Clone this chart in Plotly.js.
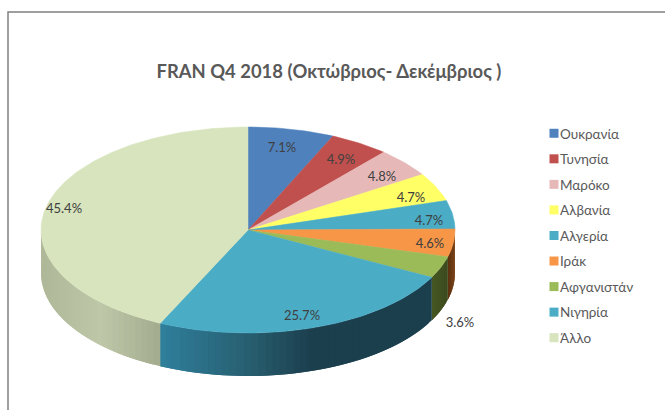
<!DOCTYPE html>
<html><head><meta charset="utf-8">
<script src="https://cdn.plot.ly/plotly-3.0.1.min.js"></script>
<style>html,body{margin:0;padding:0;background:#fff}#c{width:665px;height:410px}</style>
</head><body><div id="c"></div>
<script>
const categories = ['Ουκρανία','Τυνησία','Μαρόκο','Αλβανία','Αλγερία','Ιράκ','Αφγανιστάν','Νιγηρία','Άλλο'];
const shares = [7.1,4.9,4.8,4.7,4.7,4.6,3.6,25.7,45.4];
const colors = ['#4f81bd','#c0504d','#e6b9b8','#ffff66','#4bacc6','#f79646','#9bbb59','#4bacc6','#d7e4bd'];
// wall shades: stops [position across the wall from left to right, colour]
const wallShades = {
  5:[[0,'#5a3010'],[1,'#7a4419']],
  6:[[0,'#465722'],[1,'#3c4a1e']],
  7:[[0,'#2f7f9c'],[0.33,'#275e6f'],[0.55,'#1c3f4e'],[1,'#1c3f4e']],
  8:[[0,'#aeb898'],[0.5,'#bec7a8'],[1,'#a3ac8e']]
};
const titleText = 'FRAN Q4 2018 (Οκτώβριος- Δεκέμβριος )';
const labelPx = [[282,149],[341,161],[382,178],[411,199],[429,222],[430,245],[460,324],[302,317],[64,210]];

const W=665,H=410,cx=248,cy=230,rx=207,ry=103,depth=43;
const total = shares.reduce((a,b)=>a+b,0);
const ux = px => (px-cx)/rx, uy = py => (cy-py)/ry;
const d = depth/ry;
function hex(c){return [1,3,5].map(i=>parseInt(c.substr(i,2),16));}
function mix(a,b,t){const A=hex(a),B=hex(b);return 'rgb('+A.map((v,i)=>Math.round(v+(B[i]-v)*t)).join(',')+')';}
function shade(s,t){
  for(let i=1;i<s.length;i++){ if(t<=s[i][0]) return mix(s[i-1][1],s[i][1],(t-s[i-1][0])/(s[i][0]-s[i-1][0])); }
  return s[s.length-1][1];
}

const traces=[];
let cum=0; const bounds=shares.map(v=>{const a=cum;cum+=v;return [a/total*2*Math.PI,cum/total*2*Math.PI];});

// side walls, lower half only: overlapping strips, each painted over the last
bounds.forEach(([a,b],i)=>{
  const lo=Math.max(a,Math.PI/2), hi=Math.min(b,1.5*Math.PI);
  if(hi<=lo) return;
  const n=Math.max(2,Math.ceil((hi-lo)/(Math.PI/90)));
  const xl=Math.min(Math.sin(lo),Math.sin(hi)), xr=Math.max(Math.sin(lo),Math.sin(hi));
  for(let k=0;k<n;k++){
    const t0=lo+(hi-lo)*k/n,t1=lo+(hi-lo)*Math.min(n,k+2)/n,mid=Math.sin(lo+(hi-lo)*(k+.5)/n);
    const c=shade(wallShades[i],(mid-xl)/(xr-xl||1));
    const xs=[],ys=[];
    for(let j=0;j<=4;j++){const t=t0+(t1-t0)*j/4;xs.push(Math.sin(t));ys.push(Math.cos(t));}
    for(let j=4;j>=0;j--){const t=t0+(t1-t0)*j/4;xs.push(Math.sin(t));ys.push(Math.cos(t)-d);}
    traces.push({type:'scatter',mode:'lines',fill:'toself',fillcolor:c,line:{width:0},
      x:xs,y:ys,showlegend:false,hoverinfo:'skip'});
  }
});
// top face
bounds.forEach(([a,b],i)=>{
  const xs=[0],ys=[0],n=Math.max(8,Math.ceil((b-a)/(Math.PI/180)));
  for(let k=0;k<=n;k++){const t=a+(b-a)*k/n;xs.push(Math.sin(t));ys.push(Math.cos(t));}
  xs.push(0);ys.push(0);
  traces.push({type:'scatter',mode:'lines',fill:'toself',fillcolor:colors[i],line:{color:colors[i],width:0.5},
    x:xs,y:ys,name:categories[i],showlegend:false,text:categories[i]+': '+shares[i]+'%',hoverinfo:'text'});
});
// data labels
traces.push({type:'scatter',mode:'text',x:labelPx.map(p=>ux(p[0])),y:labelPx.map(p=>uy(p[1])),
  text:shares.map(v=>v.toFixed(1)+'%'),textposition:'middle center',
  textfont:{family:'Lato, "Noto Sans", sans-serif',size:13,color:'#404040'},showlegend:false,hoverinfo:'skip'});
// legend entries
categories.forEach((c,i)=>traces.push({type:'scatter',mode:'markers',x:[null],y:[null],name:c,legendgroup:'g'+i,
  marker:{symbol:'square',size:9,color:colors[i]},hoverinfo:'skip'}));

const layout={width:W,height:H,margin:{l:0,r:0,t:0,b:0},paper_bgcolor:'#fff',plot_bgcolor:'#fff',showlegend:true,
  title:{text:'<b>'+titleText+'</b>',font:{family:'Lato, "Noto Sans", sans-serif',size:18.4,color:'#595959'},x:329/W,xanchor:'center',y:1-72/H,yanchor:'middle'},
  xaxis:{range:[ux(0),ux(W)],visible:false,fixedrange:true},
  yaxis:{range:[uy(H),uy(0)],visible:false,fixedrange:true},
  legend:{x:520/W,y:1-118/H,xanchor:'left',yanchor:'top',traceorder:'grouped',tracegroupgap:5,itemclick:false,itemdoubleclick:false,
    font:{family:'Lato, "Noto Sans", sans-serif',size:13.5,color:'#595959'},bgcolor:'rgba(0,0,0,0)'},
  shapes:[{type:'rect',xref:'paper',yref:'paper',x0:8/W,x1:1.1,y0:-0.1,y1:1-12/H,line:{color:'#808080',width:1.5},fillcolor:'rgba(0,0,0,0)'}]
};
Plotly.newPlot('c',traces,layout,{displayModeBar:false}).then(()=>{
  document.querySelectorAll('#c .legendsymbols').forEach(n=>{
    n.setAttribute('transform','translate(14,0)');
  });
});
</script></body></html>
